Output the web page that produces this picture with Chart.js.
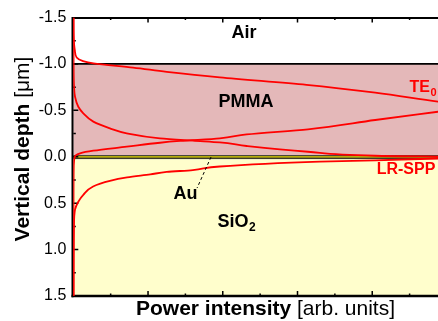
<!DOCTYPE html>
<html>
<head>
<meta charset="utf-8">
<script src="https://cdn.jsdelivr.net/npm/chart.js@4.4.1/dist/chart.umd.min.js"></script>
<style>
  html, body { margin: 0; padding: 0; background: #fff; overflow: hidden; }
  #wrap { width: 438px; height: 321px; position: relative; }
</style>
</head>
<body>
<div id="wrap"><canvas id="chart"></canvas></div>
<script>
// vertical depth in um (positive = down into the substrate)
const depthTicks = [-1.5, -1.0, -0.5, 0.0, 0.5, 1.0, 1.5];
// power axis has ticks but no labels
const powerTicks = [0, 1, 2, 3, 4];

// layer boundaries: air top, PMMA top, Au top, Au bottom, SiO2 bottom
const layerBounds = [-1.5, -1.0, -0.018, 0.025, 1.5];

// TE0 mode intensity profile
const te0Depth = [-1.5, -1.3, -1.2, -1.15, -1.07, -1.03, -1.005, -0.96, -0.915, -0.855, -0.775, -0.69, -0.593, -0.54,
  -0.485, -0.396, -0.296, -0.24, -0.199, -0.17, -0.151, -0.108, -0.065, -0.037, 0.0, 0.1, 0.5, 1.5];
const te0Power = [0.003, 0.005, 0.012, 0.02, 0.045, 0.13, 0.27, 0.80, 1.25, 1.96, 3.12, 4.04, 4.88, 5.4,
  4.88, 4.04, 3.14, 2.32, 1.96, 1.43, 1.16, 0.715, 0.268, 0.09, 0.02, 0.006, 0.003, 0.003];

// long-range surface plasmon profile
const sppDepth = [-1.5, -1.0, -0.75, -0.647, -0.539, -0.468, -0.378, -0.306, -0.253, -0.199, -0.173, -0.154, -0.116, -0.054, -0.011,
  0.008, 0.019, 0.038, 0.053, 0.105, 0.143, 0.164, 0.19, 0.223, 0.26, 0.32, 0.41, 0.484, 0.57, 0.75, 1.5];
const sppPower = [0.002, 0.004, 0.01, 0.023, 0.067, 0.134, 0.268, 0.49, 0.715, 1.16, 1.60, 1.96, 2.32, 3.14, 4.04,
  5.5, 4.88, 4.04, 3.30, 1.96, 1.60, 1.25, 1.03, 0.72, 0.49, 0.265, 0.134, 0.067, 0.023, 0.009, 0.003];

const FONT = '"Liberation Sans", Arial, sans-serif';
const RED = '#ff0000';

const toPoints = (depth, power) => depth.map((d, i) => ({ x: power[i], y: d }));

// fills for the layer stack + the frame with inward ticks
const layersPlugin = {
  id: 'layers',
  beforeDatasetsDraw(chart) {
    const { ctx, chartArea: a, scales: { x, y } } = chart;
    const py = v => y.getPixelForValue(v);
    ctx.save();
    // PMMA
    ctx.fillStyle = '#e4b8b9';
    ctx.fillRect(a.left, py(layerBounds[1]), a.right - a.left, py(layerBounds[2]) - py(layerBounds[1]));
    // SiO2
    ctx.fillStyle = '#fffecc';
    ctx.fillRect(a.left, py(layerBounds[3]), a.right - a.left, py(layerBounds[4]) - py(layerBounds[3]));
    // Au film
    ctx.fillStyle = '#3a3a2c';
    ctx.fillRect(a.left, py(layerBounds[2]), a.right - a.left, py(layerBounds[3]) - py(layerBounds[2]));
    ctx.strokeStyle = '#e2d400';
    ctx.lineWidth = 1.2;
    ctx.beginPath();
    ctx.moveTo(a.left, py(0) + 0.2);
    ctx.lineTo(a.right, py(0) + 0.2);
    ctx.stroke();

    // air / PMMA boundary
    ctx.strokeStyle = '#000';
    ctx.lineWidth = 1.6;
    ctx.beginPath();
    ctx.moveTo(a.left, py(layerBounds[1]));
    ctx.lineTo(a.right, py(layerBounds[1]));
    ctx.stroke();

    // axes
    ctx.lineWidth = 2;
    ctx.beginPath();
    ctx.moveTo(a.left - 0.8, a.top);
    ctx.lineTo(a.left - 0.8, a.bottom + 1.2);
    ctx.moveTo(a.left - 1.8, a.top + 0.5);
    ctx.lineTo(a.right, a.top + 0.5);
    ctx.stroke();
    ctx.lineWidth = 2.5;
    ctx.beginPath();
    ctx.moveTo(a.left - 1.8, a.bottom);
    ctx.lineTo(a.right, a.bottom);
    ctx.stroke();

    // inward ticks
    ctx.lineWidth = 1.5;
    ctx.beginPath();
    powerTicks.forEach(v => {
      [[v, 5], [v + 0.5, 2.5]].forEach(([t, len]) => {
        if (t <= 0 || t >= x.max) return;
        const px = x.getPixelForValue(t);
        ctx.moveTo(px, a.bottom);
        ctx.lineTo(px, a.bottom - len);
        ctx.moveTo(px, a.top);
        ctx.lineTo(px, a.top + len);
      });
    });
    depthTicks.forEach((v, i) => {
      const marks = [[v, 5]];
      if (i < depthTicks.length - 1) marks.push([(v + depthTicks[i + 1]) / 2, 2.5]);
      marks.forEach(([t, len]) => {
        if (t <= y.min || t >= y.max) return;
        const p = py(t);
        ctx.moveTo(a.left, p);
        ctx.lineTo(a.left + len, p);
      });
    });
    ctx.stroke();
    ctx.restore();
  },
  afterDatasetsDraw(chart) {
    const { ctx, scales: { x, y } } = chart;
    const px = v => x.getPixelForValue(v);
    const py = v => y.getPixelForValue(v);
    ctx.save();
    ctx.textBaseline = 'middle';

    // layer names
    ctx.fillStyle = '#000';
    ctx.font = 'bold 18px ' + FONT;
    ctx.textAlign = 'center';
    ctx.fillText('Air', px(2.285), py(-1.333));
    ctx.fillText('PMMA', px(2.31), py(-0.59));
    ctx.fillText('Au', px(1.5), py(0.405));
    ctx.textAlign = 'left';
    ctx.fillText('SiO', px(1.93), py(0.70));
    const sioW = ctx.measureText('SiO').width;
    ctx.font = 'bold 12px ' + FONT;
    ctx.fillText('2', px(1.93) + sioW + 0.5, py(0.70) + 6);

    // dashed leader to the Au film
    ctx.strokeStyle = '#000';
    ctx.lineWidth = 1;
    ctx.setLineDash([3, 2.5]);
    ctx.beginPath();
    ctx.moveTo(px(1.843), py(0.003));
    ctx.lineTo(px(1.656), py(0.337));
    ctx.stroke();
    ctx.setLineDash([]);

    // mode labels
    ctx.fillStyle = RED;
    ctx.font = 'bold 16px ' + FONT;
    ctx.textAlign = 'left';
    ctx.fillText('TE', px(4.5), py(-0.745));
    const teW = ctx.measureText('TE').width;
    ctx.font = 'bold 11px ' + FONT;
    ctx.fillText('0', px(4.5) + teW + 0.5, py(-0.745) + 5);
    ctx.font = 'bold 16px ' + FONT;
    ctx.fillText('LR-SPP', px(4.06), py(0.143));

    // axis titles, bold name + regular unit
    const title = (cx, bold, reg) => {
      ctx.font = 'bold 21px ' + FONT;
      const w1 = ctx.measureText(bold).width;
      ctx.font = '21px ' + FONT;
      const w2 = ctx.measureText(reg).width;
      const x0 = cx - (w1 + w2) / 2;
      ctx.font = 'bold 21px ' + FONT;
      ctx.fillText(bold, x0, 0);
      ctx.font = '21px ' + FONT;
      ctx.fillText(reg, x0 + w1, 0);
    };
    ctx.fillStyle = '#000';
    ctx.textAlign = 'left';
    ctx.textBaseline = 'alphabetic';
    ctx.save();
    ctx.translate(0, 315);
    title(265.5, 'Power intensity ', '[arb. units]');
    ctx.restore();
    ctx.save();
    ctx.translate(29, 149);
    ctx.rotate(-Math.PI / 2);
    title(0, 'Vertical depth ', '[\u03bcm]');
    ctx.restore();

    ctx.restore();
  }
};

const lineStyle = {
  borderColor: RED,
  borderWidth: 1.8,
  pointRadius: 0,
  fill: false,
  cubicInterpolationMode: 'monotone'
};

new Chart(document.getElementById('chart'), {
  type: 'line',
  data: {
    datasets: [
      { label: 'TE0', data: toPoints(te0Depth, te0Power), ...lineStyle },
      { label: 'LR-SPP', data: toPoints(sppDepth, sppPower), ...lineStyle }
    ]
  },
  options: {
    indexAxis: 'y',
    responsive: true,
    maintainAspectRatio: false,
    animation: false,
    layout: { padding: { top: 17.5, bottom: 25, left: 0, right: 0 } },
    plugins: { legend: { display: false }, tooltip: { enabled: false } },
    scales: {
      x: {
        type: 'linear',
        min: 0,
        max: 4.88,
        display: false
      },
      y: {
        type: 'linear',
        min: -1.5,
        max: 1.5,
        reverse: true,
        afterBuildTicks: s => { s.ticks = depthTicks.map(v => ({ value: v })); },
        afterFit: s => { s.width = 73.3; },
        grid: { display: false, drawTicks: false },
        border: { display: false },
        ticks: {
          padding: 7,
          color: '#000',
          font: { family: FONT, size: 16 },
          callback: v => Number(v).toFixed(1)
        }
      }
    }
  },
  plugins: [layersPlugin]
});
</script>
</body>
</html>
